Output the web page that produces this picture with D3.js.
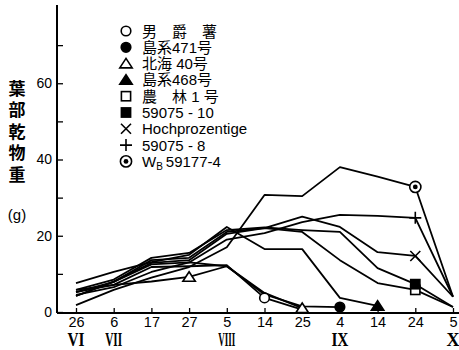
<!DOCTYPE html>
<html>
<head>
<meta charset="utf-8">
<script src="https://cdn.jsdelivr.net/npm/d3@7"></script>
<style>
  html, body { margin: 0; padding: 0; background: #fff; }
  svg { display: block; }
  .lat { font-family: "Liberation Sans", Arial, "Noto Sans CJK JP", sans-serif; }
  .cjk { font-family: "Noto Sans CJK JP", sans-serif; }
  .rom { font-family: "Liberation Serif", "Times New Roman", serif; }
</style>
</head>
<body>
<svg id="chart" width="459" height="350"></svg>
<script>
// sampling dates (June 26 – October 5), shown evenly spaced
const dates = ["6/26", "7/6", "7/17", "7/27", "8/5", "8/14", "8/25", "9/4", "9/14", "9/24", "10/5"];
const dayLabels = ["26", "6", "17", "27", "5", "14", "25", "4", "14", "24", "5"];
const monthAt = ["6/26", "7/6", "8/5", "9/4", "10/5"];
const monthText = ["VI", "VII", "VIII", "IX", "X"];

// leaf dry weight (g) per variety; null = not sampled
const danshaku   = [5.2, 7.1, 11.8, 12.0, 12.3, 3.7, 0.6, null, null, null, null];
const shima471   = [4.2, 7.9, 12.5, 13.0, 12.0, 4.6, 1.5, 1.3, null, null, null];
const hokkai40   = [5.8, 7.1, 8.0, 9.2, 12.0, 5.0, 1.0, null, null, null, null];
const shima468   = [7.6, 10.5, 13.1, 15.0, 22.3, 16.5, 16.5, 3.7, 1.6, null, null];
const norin1     = [5.2, 7.9, 13.6, 14.2, 21.0, 22.0, 21.0, 13.6, 7.6, 5.8, 1.3];
const s59075_10  = [5.8, 8.5, 14.2, 15.5, 21.5, 22.2, 21.5, 21.0, 11.5, 7.3, 1.3];
const hochproz   = [4.2, 8.0, 12.9, 13.6, 20.5, 22.0, 25.0, 22.3, 15.7, 14.7, 4.0];
const s59075_8   = [4.5, 6.5, 10.5, 13.0, 19.0, 20.7, 23.6, 25.5, 25.2, 24.7, 4.0];
const wb59177_4  = [1.8, 5.8, 9.0, 11.8, 17.0, 30.7, 30.4, 38.0, 35.5, 32.8, 4.0];

const seriesNames = ["男　爵　薯", "島系471号", "北海 40号", "島系468号", "農　林 1 号",
                     "59075 - 10", "Hochprozentige", "59075 - 8", "WB59177-4"];
const seriesValues = [danshaku, shima471, hokkai40, shima468, norin1,
                      s59075_10, hochproz, s59075_8, wb59177_4];
const seriesSymbols = ["circle", "dot", "triangle", "triangleFilled", "square",
                       "squareFilled", "times", "plus", "bullseye"];
// dates at which each line carries its symbol
const seriesMarkAt = [["8/14"], ["9/4"], ["7/27", "8/25"], ["9/14"], ["9/24"],
                      ["9/24"], ["9/24"], ["9/24"], ["9/24"]];

const yTicks = [0, 10, 20, 30, 40, 50, 60, 70];
const yLabelled = [0, 20, 40, 60];

const svg = d3.select("#chart");
const axisX = 57, baseY = 313;

const x = d3.scalePoint().domain(dates).range([76, 453]);
const y = d3.scaleLinear().domain([0, 80]).range([312, 7]);

// symbol drawing
function drawSymbol(g, type, cx, cy, s) {
  const k = s || 1;
  const stroke = { stroke: "#000", "stroke-width": 1.6 };
  const apply = (sel, attrs) => { Object.entries(attrs).forEach(([a, v]) => sel.attr(a, v)); return sel; };
  if (type === "circle" || type === "dot") {
    apply(g.append("circle").attr("cx", cx).attr("cy", cy).attr("r", 4.8 * k)
      .attr("fill", type === "dot" ? "#000" : "#fff"), stroke);
  } else if (type === "bullseye") {
    apply(g.append("circle").attr("cx", cx).attr("cy", cy).attr("r", 5.6 * k).attr("fill", "#fff"), stroke);
    g.append("circle").attr("cx", cx).attr("cy", cy).attr("r", 2.4 * k).attr("fill", "#000");
  } else if (type === "triangle" || type === "triangleFilled") {
    const w = 6.2 * k, h = 9.5 * k;
    const p = `M${cx},${cy - h * 0.55}L${cx + w},${cy + h * 0.45}L${cx - w},${cy + h * 0.45}Z`;
    apply(g.append("path").attr("d", p).attr("fill", type === "triangleFilled" ? "#000" : "#fff"), stroke);
  } else if (type === "square" || type === "squareFilled") {
    const a = 4.6 * k;
    apply(g.append("rect").attr("x", cx - a).attr("y", cy - a).attr("width", 2 * a).attr("height", 2 * a)
      .attr("fill", type === "squareFilled" ? "#000" : "#fff"), stroke);
  } else if (type === "times") {
    const a = 5 * k;
    apply(g.append("path").attr("d", `M${cx - a},${cy - a}L${cx + a},${cy + a}M${cx - a},${cy + a}L${cx + a},${cy - a}`)
      .attr("fill", "none"), stroke);
  } else if (type === "plus") {
    const a = 6 * k;
    apply(g.append("path").attr("d", `M${cx - a},${cy}L${cx + a},${cy}M${cx},${cy - a}L${cx},${cy + a}`)
      .attr("fill", "none"), stroke);
  }
}

// axes
const yAxis = d3.axisLeft(y).tickValues(yTicks).tickSizeInner(-6).tickSizeOuter(0).tickPadding(5)
  .tickFormat(d => yLabelled.includes(d) ? d : "");
const gy = svg.append("g").attr("transform", `translate(${axisX},0)`).call(yAxis);
gy.select(".domain").remove();
gy.selectAll(".tick line").attr("stroke", "#000").attr("stroke-width", 1.3);
gy.selectAll(".tick text").attr("class", "lat").attr("font-size", 14).attr("fill", "#000");

const xAxis = d3.axisBottom(x).tickSizeInner(-5).tickSizeOuter(0).tickPadding(4)
  .tickFormat((d, i) => dayLabels[i]);
const gx = svg.append("g").attr("transform", `translate(0,${baseY})`).call(xAxis);
gx.select(".domain").remove();
gx.selectAll(".tick line").attr("stroke", "#000").attr("stroke-width", 1.3);
gx.selectAll(".tick text").attr("class", "lat").attr("font-size", 14.5).attr("fill", "#000");

svg.append("line").attr("x1", axisX).attr("x2", 459).attr("y1", baseY).attr("y2", baseY)
  .attr("stroke", "#000").attr("stroke-width", 2);
svg.append("line").attr("x1", axisX).attr("x2", axisX).attr("y1", 5).attr("y2", baseY)
  .attr("stroke", "#000").attr("stroke-width", 2);

// month numerals under the first day of each month, set tight like single glyphs
const gMonths = svg.append("g");
monthAt.forEach((d, i) => {
  const t = gMonths.append("text").attr("class", "rom").attr("x", x(d)).attr("y", 346)
    .attr("text-anchor", "middle").attr("font-size", 18).attr("font-weight", 700).attr("fill", "#000")
    .text(monthText[i]);
  const w = t.node().getComputedTextLength();
  if (w > 17) t.attr("textLength", 17).attr("lengthAdjust", "spacingAndGlyphs");
});

// y title, set vertically
svg.append("text").attr("class", "cjk").attr("x", 17).attr("y", 80)
  .style("writing-mode", "vertical-rl").attr("letter-spacing", 4.5)
  .attr("font-size", 17).attr("font-weight", 700).attr("fill", "#000")
  .text("葉部乾物重");
svg.append("text").attr("class", "lat").attr("x", 17).attr("y", 220)
  .attr("text-anchor", "middle").attr("font-size", 15).attr("fill", "#000").text("(g)");

// lines
const line = d3.line().defined(d => d.v != null).x(d => x(d.date)).y(d => y(d.v));
const gLines = svg.append("g");
seriesValues.forEach(vals => {
  const pts = dates.map((date, i) => ({ date, v: vals[i] }));
  gLines.append("path").attr("d", line(pts)).attr("fill", "none")
    .attr("stroke", "#000").attr("stroke-width", 1.8).attr("stroke-linejoin", "round");
});

// symbols on the lines
const gMarks = svg.append("g");
seriesValues.forEach((vals, si) => {
  seriesMarkAt[si].forEach(date => {
    const v = vals[dates.indexOf(date)];
    drawSymbol(gMarks, seriesSymbols[si], x(date), y(v), 1);
  });
});

// legend
const gLeg = svg.append("g");
seriesNames.forEach((name, i) => {
  const cy = 31 + i * 16.3;
  drawSymbol(gLeg, seriesSymbols[i], 126, cy, 1);
  const t = gLeg.append("text").attr("class", "lat").attr("x", 142).attr("y", cy + 5.5)
    .attr("font-size", 15).attr("fill", "#000");
  if (name.startsWith("WB")) {
    t.append("tspan").text("W");
    t.append("tspan").attr("font-size", 10).attr("dy", 3).text("B");
    t.append("tspan").attr("dy", -3).attr("dx", 3).text(name.slice(2));
  } else {
    t.text(name);
  }
});
</script>
</body>
</html>
